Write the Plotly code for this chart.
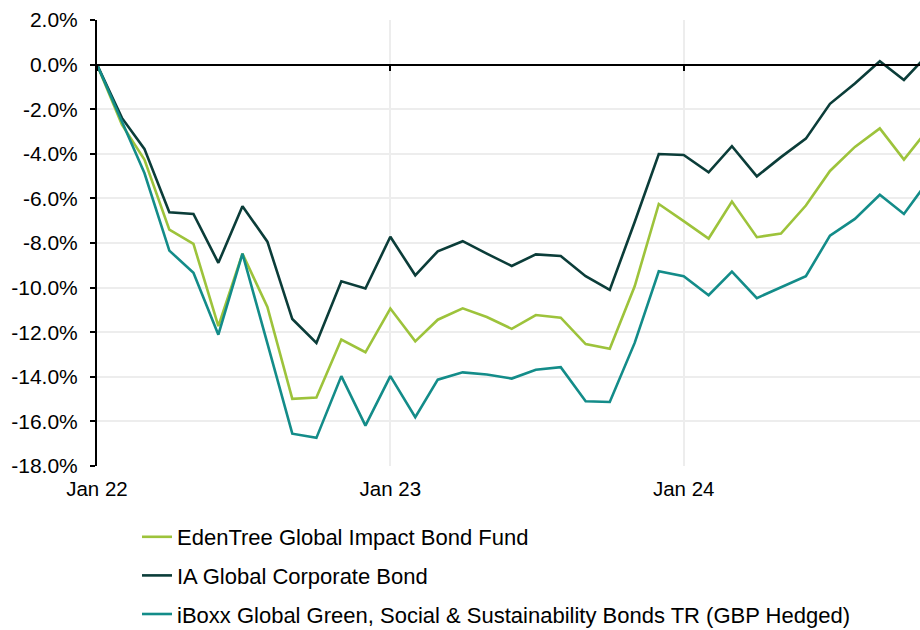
import pandas as pd
import plotly.graph_objects as go

months = pd.date_range("2022-01-01", periods=35, freq="MS")

edentree = [0, -2.69, -4.26, -7.40, -8.04, -11.73, -8.48, -10.87, -14.99, -14.93,
            -12.33, -12.90, -10.94, -12.41, -11.44, -10.93, -11.32, -11.85, -11.23, -11.35,
            -12.53, -12.74, -9.94, -6.25, -7.02, -7.80, -6.14, -7.74, -7.58, -6.32,
            -4.77, -3.69, -2.86, -4.26, -2.85]
ia_corp = [0, -2.39, -3.78, -6.62, -6.70, -8.89, -6.35, -7.94, -11.41, -12.48,
           -9.72, -10.04, -7.72, -9.45, -8.37, -7.92, -8.48, -9.03, -8.51, -8.58,
           -9.49, -10.10, -7.06, -4.01, -4.05, -4.83, -3.66, -5.01, -4.15, -3.32,
           -1.76, -0.85, 0.15, -0.69, 0.50]
iboxx = [0, -2.55, -4.86, -8.34, -9.34, -12.11, -8.48, -12.50, -16.55, -16.74,
         -13.97, -16.19, -13.97, -15.81, -14.13, -13.80, -13.90, -14.08, -13.68, -13.57,
         -15.10, -15.13, -12.48, -9.27, -9.49, -10.34, -9.28, -10.47, -9.98, -9.49,
         -7.67, -6.92, -5.84, -6.70, -5.17]

names = ["EdenTree Global Impact Bond Fund",
         "IA Global Corporate Bond",
         "iBoxx Global Green, Social & Sustainability Bonds TR (GBP Hedged)"]
colors = ["#9DC33B", "#0B3D39", "#138C89"]

y_ticks = [-18, -16, -14, -12, -10, -8, -6, -4, -2, 0, 2]
y_labels = ["-18.0%", "-16.0%", "-14.0%", "-12.0%", "-10.0%", "-8.0%", "-6.0%",
            "-4.0%", "-2.0%", "0.0%", "2.0%"]
x_ticks = ["2022-01-01", "2023-01-01", "2024-01-01"]
x_labels = ["Jan 22", "Jan 23", "Jan 24"]

FONT = "Liberation Sans, Arial, sans-serif"

fig = go.Figure()
for i, (vals, nm, col) in enumerate(zip([edentree, ia_corp, iboxx], names, colors)):
    fig.add_trace(go.Scatter(x=months, y=vals, name=nm, mode="lines",
                             line=dict(color=col, width=2.6), legendgroup=str(i)))

# helper axis drawn along the zero line (tick marks only)
fig.add_trace(go.Scatter(x=[months[0]], y=[0], xaxis="x2", mode="lines",
                         showlegend=False, hoverinfo="skip", line=dict(width=0)))

fig.update_layout(
    width=920, height=630,
    margin=dict(l=97, r=0, t=20, b=164, autoexpand=False),
    paper_bgcolor="white", plot_bgcolor="white",
    font=dict(family=FONT, color="#000000"),
    showlegend=True,
    legend=dict(orientation="v", xref="container", yref="container",
                x=137 / 920, xanchor="left", y=1 - 516 / 630, yanchor="top",
                font=dict(size=22, family=FONT), tracegroupgap=7,
                bgcolor="rgba(0,0,0,0)"),
    xaxis=dict(type="date", range=["2022-01-01", "2024-10-21"], automargin=False,
               tickvals=x_ticks, ticktext=x_labels, ticks="", showline=False,
               showgrid=True, gridcolor="#EDEDED", gridwidth=1.5,
               tickfont=dict(size=20.5), ticklabelstandoff=8, zeroline=False),
    xaxis2=dict(type="date", matches="x", overlaying="x", anchor="free", position=0.9,
                automargin=False,
                tickvals=x_ticks, ticktext=["", "", ""], ticks="outside", ticklen=5,
                tickwidth=2, tickcolor="#000000", showline=True, linecolor="#000000",
                linewidth=2, showgrid=False, zeroline=False),
    yaxis=dict(range=[-18, 2], tickvals=y_ticks, ticktext=y_labels, automargin=False,
               ticks="outside", ticklen=5, tickwidth=2, tickcolor="#000000",
               showline=True, linecolor="#000000", linewidth=2,
               showgrid=True, gridcolor="#EDEDED", gridwidth=1.5,
               zeroline=False, tickfont=dict(size=21), ticklabelstandoff=8),
)

fig.write_html("out.html", config={"displayModeBar": False},
               post_script="document.body.style.margin='0';"
                           "document.body.style.overflow='hidden';")
